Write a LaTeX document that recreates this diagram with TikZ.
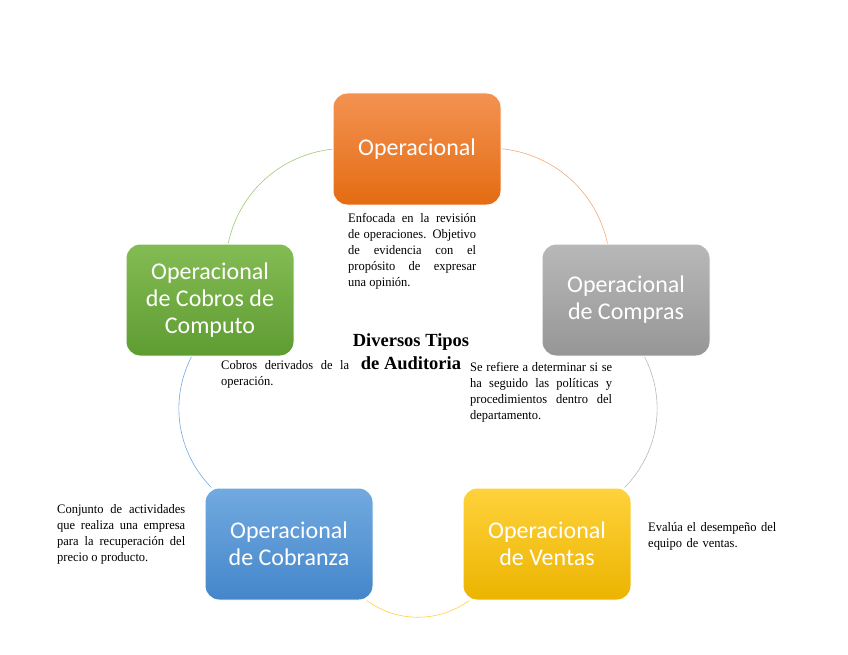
\documentclass[tikz,border=0pt]{standalone}
\usepackage{fontspec}
\setmainfont{Liberation Serif}
\setsansfont{Carlito}
\newfontfamily\descfont[FakeStretch=0.96]{Liberation Serif}
\usetikzlibrary{backgrounds}

\definecolor{naranjaA}{RGB}{243,146,82}
\definecolor{naranjaB}{RGB}{228,108,18}
\definecolor{grisA}{RGB}{184,184,184}
\definecolor{grisB}{RGB}{150,150,150}
\definecolor{amarilloA}{RGB}{255,210,60}
\definecolor{amarilloB}{RGB}{236,180,0}
\definecolor{azulA}{RGB}{114,170,224}
\definecolor{azulB}{RGB}{68,134,202}
\definecolor{verdeA}{RGB}{132,188,84}
\definecolor{verdeB}{RGB}{94,156,50}

\begin{document}
\begin{tikzpicture}[
  x=1pt, y=-1pt,
  tipo/.style={rounded corners=14pt,draw=white,line width=1pt,minimum width=168pt,minimum height=112pt,
    inner sep=2pt,align=center,text=white,font=\sffamily\fontsize{24}{27}\selectfont},
  desc/.style={anchor=north west,inner sep=0pt,text width=128pt,align=justify,
    font=\descfont\fontsize{13}{16}\selectfont,execute at begin node={\hyphenpenalty=10000 \exhyphenpenalty=10000 }},
  arco/.style={line width=0.6pt,bend left=36,looseness=0.95}
]
\useasboundingbox (0,0) rectangle (848,655);
% cinco tipos alrededor del circulo
\node[tipo,top color=naranjaA,bottom color=naranjaB] (oper) at (417,149) {Operacional};
\node[tipo,top color=grisA,bottom color=grisB] (compras) at (626,300) {Operacional\\de Compras};
\node[tipo,top color=amarilloA,bottom color=amarilloB] (ventas) at (547,544) {Operacional\\de Ventas};
\node[tipo,top color=azulA,bottom color=azulB] (cobranza) at (289,544) {Operacional\\de Cobranza};
\node[tipo,top color=verdeA,bottom color=verdeB] (computo) at (210,300) {Operacional\\de Cobros de\\Computo};
\node[font=\bfseries\fontsize{18.5}{23}\selectfont,align=center] (titulo) at (411,352) {Diversos Tipos\\de Auditoria};
% descripciones
\node[desc] (dOper) at (348,213) {Enfocada en la revisión\linebreak de operaciones. Objetivo\linebreak de evidencia con el\linebreak propósito de expresar\linebreak una opinión.};
\node[desc] (dComputo) at (221,360) {Cobros derivados de la\linebreak operación.};
\node[desc,text width=142pt] (dCompras) at (470,362) {Se refiere a determinar si se\linebreak ha seguido las políticas y\linebreak procedimientos dentro del\linebreak departamento.};
\node[desc] (dCobranza) at (57,504) {Conjunto de actividades\linebreak que realiza una empresa\linebreak para la recuperación del\linebreak precio o producto.};
\node[desc,text width=135pt,align=left] (dVentas) at (648,522) {Evalúa el desempeño del\\equipo de ventas.};
\begin{pgfonlayer}{background}
  \draw[arco,naranjaA!80] (oper) to (compras);
  \draw[arco,grisA] (compras) to (ventas);
  \draw[arco,amarilloA] (ventas) to (cobranza);
  \draw[arco,azulA] (cobranza) to (computo);
  \draw[arco,verdeA!80] (computo) to (oper);
\end{pgfonlayer}
\end{tikzpicture}
\end{document}
